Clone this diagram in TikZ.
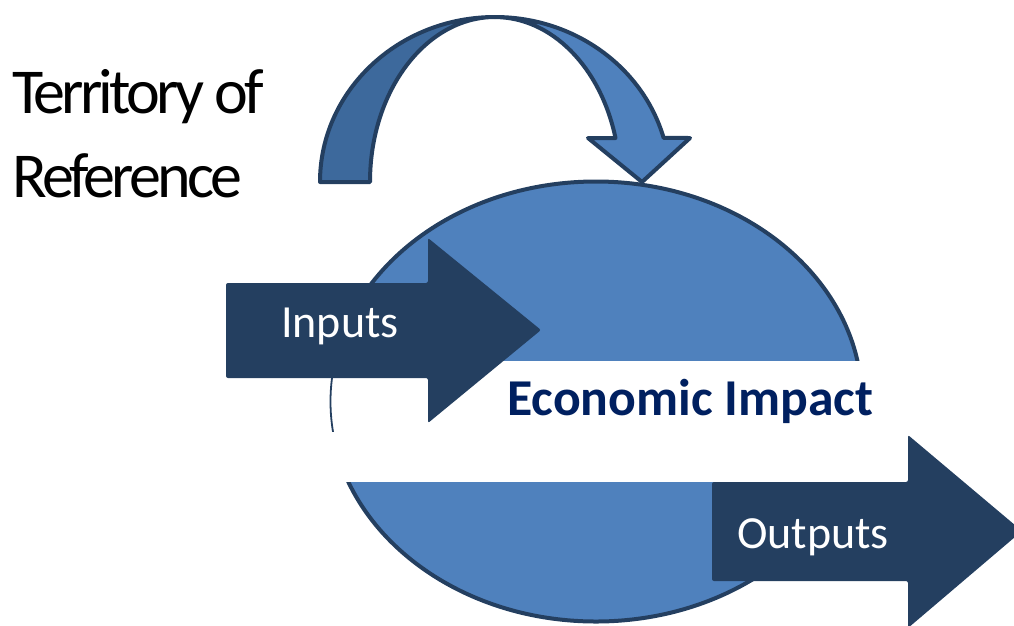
\documentclass[tikz,border=0pt]{standalone}
\usepackage{fontspec}
\setmainfont{Carlito}
\newfontfamily\tightfont[LetterSpace=-6]{Carlito}
\definecolor{lblue}{HTML}{4F81BD}
\definecolor{dblue}{HTML}{3D699C}
\definecolor{navy}{HTML}{243F60}
\definecolor{txtnavy}{HTML}{002060}
\tikzset{
  outl/.style={draw=navy, line width=4pt, line join=round},
  bigarrow/.style={fill=navy, rounded corners=2pt},
  arrowtext/.style={text=white, font=\fontsize{46}{55}\selectfont, inner sep=0pt, anchor=base},
}
\begin{document}
\begin{tikzpicture}[x=1pt,y=-1pt]
\useasboundingbox (0,0) rectangle (1014,625);
\clip (0,0) rectangle (1014,625);
% ellipse
\draw[outl, fill=lblue] (596,401.5) ellipse [x radius=266, y radius=220];
% white band
\fill[white] (326,361) rectangle (885,482);
\begin{scope}
\clip (320,376) rectangle (340,431);
\draw[draw=navy, line width=1.8pt] (596,401.5) ellipse [x radius=265.5, y radius=220];
\end{scope}
% inputs arrow
\fill[bigarrow] (226,283) -- (428,283) -- (428,238) -- (541,330) -- (428,423) -- (428,378) -- (226,378) -- cycle;
% outputs arrow
\fill[bigarrow] (712,482) -- (908,482) -- (908,435) -- (1022,531) -- (908,628) -- (908,581) -- (712,581) -- cycle;
% curved arrow: left (back) band
\draw[outl, fill=dblue] (320,182) arc[start angle=180, end angle=270, x radius=175, y radius=165]
  arc[start angle=270, end angle=180, x radius=125, y radius=165] -- cycle;
% right (front) band with head
\draw[outl, fill=lblue] (495,17) arc[start angle=270, end angle=344.5, x radius=175, y radius=165]
  -- (690,138) -- (642,182) -- (588,138) -- (615.5,138)
  arc[start angle=344.5, end angle=270, x radius=125, y radius=165] -- cycle;
% texts
\node[arrowtext] (inputs) at (340,337) {Inputs};
\node[arrowtext] (outputs) at (813,548) {Outputs};
\node[inner sep=0pt, anchor=base west, text=txtnavy, font=\fontsize{51.7}{60}\selectfont\bfseries] (econ) at (507,415) {Economic Impact};
\node[inner sep=0pt, anchor=base west, font=\tightfont\fontsize{64}{84}\selectfont] (terr1) at (12,113) {Territory of};
\node[inner sep=0pt, anchor=base west, font=\tightfont\fontsize{64}{84}\selectfont] (terr2) at (12,197) {Reference};
\end{tikzpicture}
\end{document}
